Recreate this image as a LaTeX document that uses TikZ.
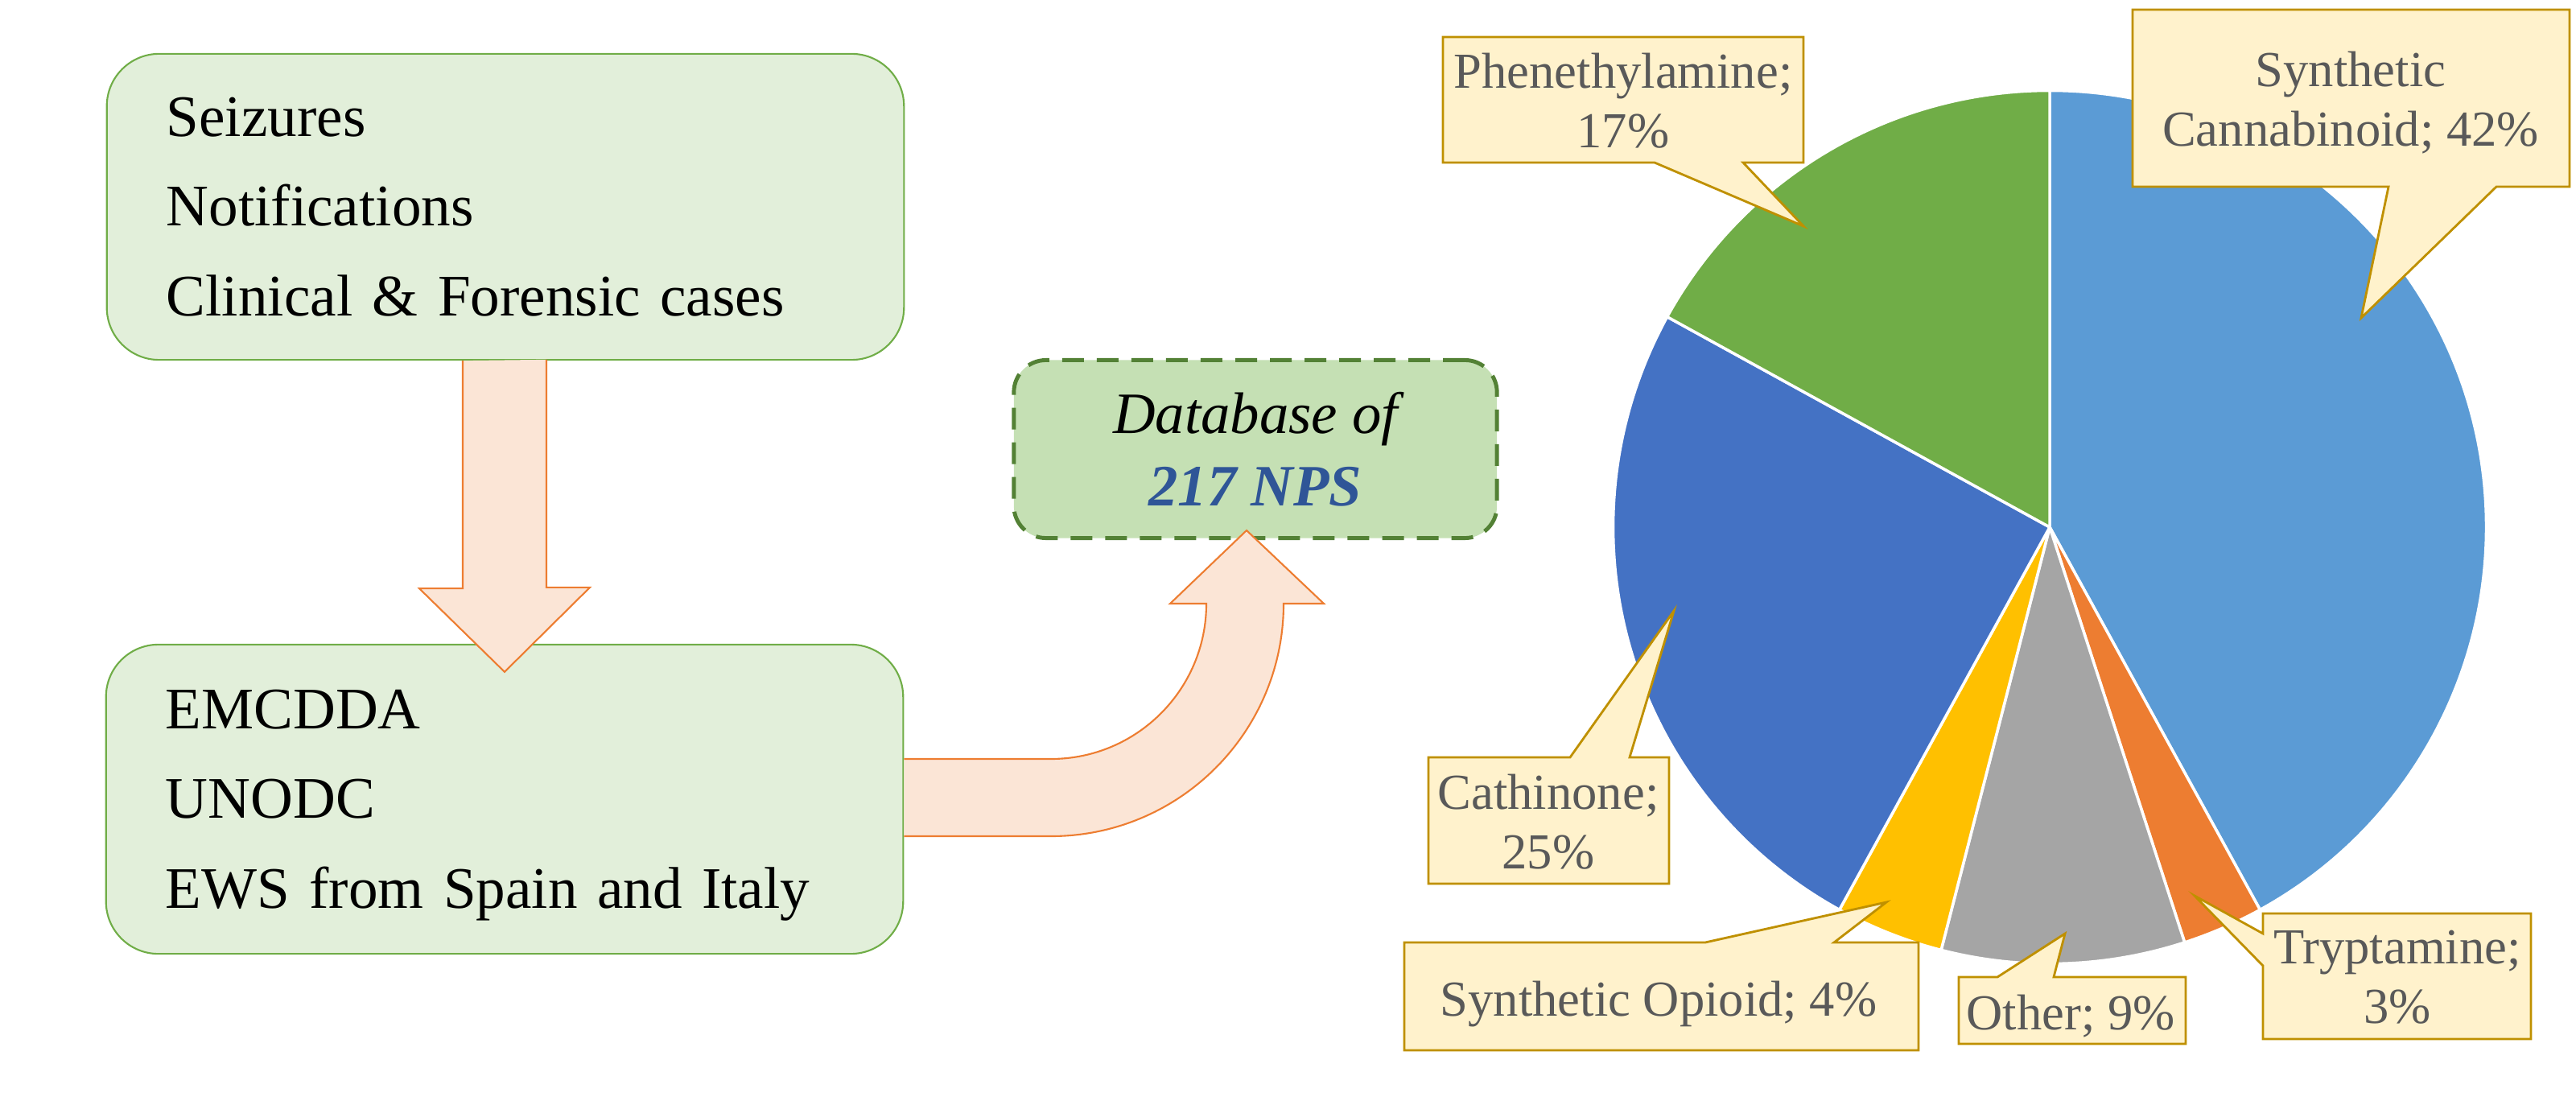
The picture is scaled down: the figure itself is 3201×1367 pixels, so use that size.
\documentclass[tikz,border=0pt]{standalone}
\usepackage{fontspec}
\setmainfont{Liberation Serif}
\usetikzlibrary{calc}
\definecolor{srcfill}{HTML}{E2EFDA}
\definecolor{srcdraw}{HTML}{70AD47}
\definecolor{dbfill}{HTML}{C5E0B4}
\definecolor{dbdraw}{HTML}{538135}
\definecolor{npsblue}{HTML}{2F5597}
\definecolor{arrowfill}{HTML}{FBE5D6}
\definecolor{arrowdraw}{HTML}{ED7D31}
\definecolor{callfill}{HTML}{FFF2CC}
\definecolor{calldraw}{HTML}{BF9000}
\definecolor{labelgray}{HTML}{595959}
\definecolor{pieSC}{HTML}{5B9BD5}
\definecolor{pieTR}{HTML}{ED7D31}
\definecolor{pieOT}{HTML}{A5A5A5}
\definecolor{pieOP}{HTML}{FFC000}
\definecolor{pieCA}{HTML}{4472C4}
\definecolor{piePH}{HTML}{70AD47}
\tikzset{
  srcbox/.style={
    rectangle,
    rounded corners=0.65cm,
    fill=srcfill,
    draw=srcdraw, line width=0.6pt,
    text width=8.42cm,
    inner xsep=0.74cm,
    minimum height=3.8cm,
    text depth=2.24cm,
    align=left,
    font=\fontsize{20.8}{31.8}\selectfont},
  dbbox/.style={
    rectangle,
    rounded corners=0.4cm,
    fill=dbfill,
    draw=dbdraw, line width=1.4pt,
    dash pattern=on 0.27cm off 0.16cm,
    minimum width=6cm,
    minimum height=2.21cm,
    text depth=0pt,
    align=center,
    font=\fontsize{20.7}{25.5}\selectfont},
  blockarrow/.style={fill=arrowfill, draw=arrowdraw, line width=0.6pt},
  callout/.style={fill=callfill, draw=calldraw, line width=0.8pt},
  calltext/.style={text=labelgray, align=center, inner sep=0pt, text depth=0pt,
    font=\fontsize{17.8}{21}\selectfont},
  slice/.style={draw=white, line width=1pt, line join=round},
}

\begin{document}
\begin{tikzpicture}[x=0.01cm, y=-0.01cm]
  \useasboundingbox (0,0) rectangle (3201,1367);
  % sources and database
  \node[srcbox] (src) at (628,257) {Seizures\\Notifications\\Clinical \& Forensic cases};
  \node[srcbox, minimum height=3.84cm] (feeds) at (627,993) {EMCDDA\\UNODC\\EWS from Spain and Italy};
  \node[dbbox] (db) at (1560,558) {\itshape Database of\\{\bfseries\itshape\color{npsblue}217 NPS}};
  % block arrows
  \filldraw[blockarrow] ($(src.south)+(-53,0)$) -- ++(0,283) -- ++(-54,0)
    -- ($(feeds.north)+(0,35)$) -- ++(106,-105) -- ++(-54,0) -- ++(0,-283);
  \filldraw[blockarrow] ($(feeds.east)+(0,-50)$) -- (1306,943)
    arc[start angle=90, end angle=0, radius=193] -- (1454,750)
    -- ($(db.south)+(-11,-12)$) -- (1645,750) -- (1595,750)
    arc[start angle=0, end angle=90, radius=289] -- ($(feeds.east)+(0,46)$);
  % pie chart
  \coordinate (pc) at (2547,655);
  \foreach \a/\b/\c in {0/42/pieSC, 42/45/pieTR, 45/54/pieOT, 54/58/pieOP, 58/83/pieCA, 83/100/piePH}
    \filldraw[slice, fill=\c] (pc) -- ++({-90+3.6*\a}:542.5)
      arc[start angle={-90+3.6*\a}, end angle={-90+3.6*\b}, radius=542.5] -- cycle;
  % data labels
  \filldraw[callout] (1793,46) -- (2241,46) -- (2241,202) -- (2166,202) -- (2241,281) -- (2056,202) -- (1793,202) -- cycle;
  \node[calltext] (phen) at (2017,124.5) {Phenethylamine;\\17\%};
  \filldraw[callout] (2650,12) -- (3193,12) -- (3193,232) -- (3102,232) -- (2934,395) -- (2968,232) -- (2650,232) -- cycle;
  \node[calltext] (canna) at (2921,123) {Synthetic\\Cannabinoid; 42\%};
  \filldraw[callout] (1775,941) -- (1951,941) -- (2080,759) -- (2025,941) -- (2074,941) -- (2074,1098) -- (1775,1098) -- cycle;
  \node[calltext] (cathi) at (1924,1020.5) {Cathinone;\\25\%};
  \filldraw[callout] (1745,1171) -- (2119,1171) -- (2344,1121) -- (2279,1171) -- (2384,1171) -- (2384,1305) -- (1745,1305) -- cycle;
  \node[calltext] (opio) at (2061,1240.5) {Synthetic Opioid; 4\%};
  \filldraw[callout] (2434,1214) -- (2482,1214) -- (2566,1160) -- (2552,1214) -- (2716,1214) -- (2716,1297) -- (2434,1297) -- cycle;
  \node[calltext] (other) at (2573,1257.5) {Other; 9\%};
  \filldraw[callout] (2812,1135) -- (3145,1135) -- (3145,1291) -- (2812,1291) -- (2812,1200) -- (2727,1113) -- (2812,1160) -- cycle;
  \node[calltext] (trypt) at (2979,1213.5) {Tryptamine;\\3\%};
\end{tikzpicture}
\end{document}
